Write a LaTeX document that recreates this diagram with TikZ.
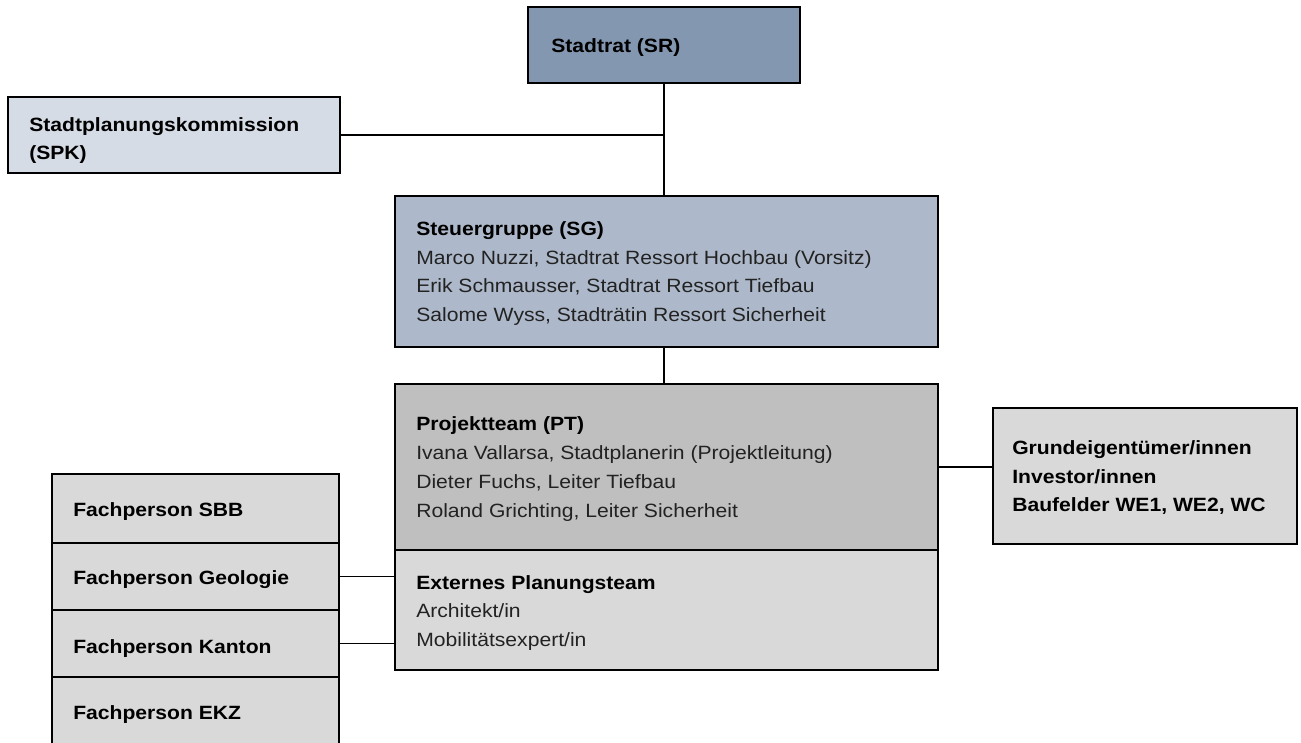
\documentclass[tikz,border=0pt]{standalone}
\usepackage{fontspec}
\setmainfont{Liberation Sans}[FakeStretch=1.1]
\usetikzlibrary{calc}
\def\pxunit{0.75pt}
\definecolor{srfill}{HTML}{8497B0}
\definecolor{spkfill}{HTML}{D6DCE5}
\definecolor{sgfill}{HTML}{ADB9CA}
\definecolor{ptfill}{HTML}{BFBFBF}
\definecolor{lgfill}{HTML}{D9D9D9}
\definecolor{txtgray}{HTML}{222222}
\tikzset{
  box/.style={draw=black, line width=1.2pt, inner sep=0pt, outer sep=0pt, anchor=north west},
  conn/.style={draw=black, line width=1.1pt},
  bt/.style={anchor=base west, inner sep=0pt, font=\fontsize{14.4pt}{17pt}\selectfont\bfseries, text=black},
  rt/.style={anchor=base west, inner sep=0pt, font=\fontsize{14.4pt}{17pt}\selectfont, text=txtgray},
}
\begin{document}
\begin{tikzpicture}[x=0.75pt,y=-0.75pt]
\useasboundingbox (0,0) rectangle (1301,742);
% boxes
\node[box, fill=srfill, minimum width=272*\pxunit, minimum height=76*\pxunit] (sr) at (528,7) {};
\node[box, fill=spkfill, minimum width=332*\pxunit, minimum height=76*\pxunit] (spk) at (8,97) {};
\node[box, fill=sgfill, minimum width=543*\pxunit, minimum height=151*\pxunit] (sg) at (395,196) {};
\node[box, fill=ptfill, minimum width=543*\pxunit, minimum height=166*\pxunit] (ptu) at (395,384) {};
\node[box, fill=lgfill, minimum width=543*\pxunit, minimum height=120*\pxunit] (ptl) at (395,550) {};
\node[box, fill=lgfill, minimum width=304*\pxunit, minimum height=136*\pxunit] (gr) at (993,408) {};
\node[box, fill=lgfill, minimum width=287*\pxunit, minimum height=69*\pxunit] (f1) at (52,474) {};
\node[box, fill=lgfill, minimum width=287*\pxunit, minimum height=67*\pxunit] (f2) at (52,543) {};
\node[box, fill=lgfill, minimum width=287*\pxunit, minimum height=67*\pxunit] (f3) at (52,610) {};
\node[box, fill=lgfill, minimum width=287*\pxunit, minimum height=67*\pxunit] (f4) at (52,677) {};
% connectors
\draw[conn] (sr.south) -- (sr.south |- sg.north);
\draw[conn] (spk.east) -- (spk.east -| sr.south);
\draw[conn] (sr.south |- sg.south) -- (sr.south |- ptu.north);
\draw[conn] (ptu.east) -- (ptu.east -| gr.west);
\draw[conn] (f2.east) -- (f2.east -| ptl.west);
\draw[conn] (f3.east) -- (f3.east -| ptl.west);
% texts
\node[bt] (srt) at (551,53) {Stadtrat (SR)};
\node[bt] (spkt1) at (29,131) {Stadtplanungskommission};
\node[bt] (spkt2) at (29,159) {(SPK)};
\node[bt] (sgt1) at (416,235) {Steuergruppe (SG)};
\node[rt] (sgt2) at (416,264) {Marco Nuzzi, Stadtrat Ressort Hochbau (Vorsitz)};
\node[rt] (sgt3) at (416,292) {Erik Schmausser, Stadtrat Ressort Tiefbau};
\node[rt] (sgt4) at (416,321) {Salome Wyss, Stadträtin Ressort Sicherheit};
\node[bt] (ptt1) at (416,430) {Projektteam (PT)};
\node[rt] (ptt2) at (416,459) {Ivana Vallarsa, Stadtplanerin (Projektleitung)};
\node[rt] (ptt3) at (416,488) {Dieter Fuchs, Leiter Tiefbau};
\node[rt] (ptt4) at (416,517) {Roland Grichting, Leiter Sicherheit};
\node[bt] (ext1) at (416,589) {Externes Planungsteam};
\node[rt] (ext2) at (416,617) {Architekt/in};
\node[rt] (ext3) at (416,646) {Mobilitätsexpert/in};
\node[bt] (grt1) at (1012,454) {Grundeigentümer/innen};
\node[bt] (grt2) at (1012,483) {Investor/innen};
\node[bt] (grt3) at (1012,511) {Baufelder WE1, WE2, WC};
\node[bt] (f1t) at (73,516) {Fachperson SBB};
\node[bt] (f2t) at (73,584) {Fachperson Geologie};
\node[bt] (f3t) at (73,653) {Fachperson Kanton};
\node[bt] (f4t) at (73,719) {Fachperson EKZ};
\end{tikzpicture}
\end{document}
